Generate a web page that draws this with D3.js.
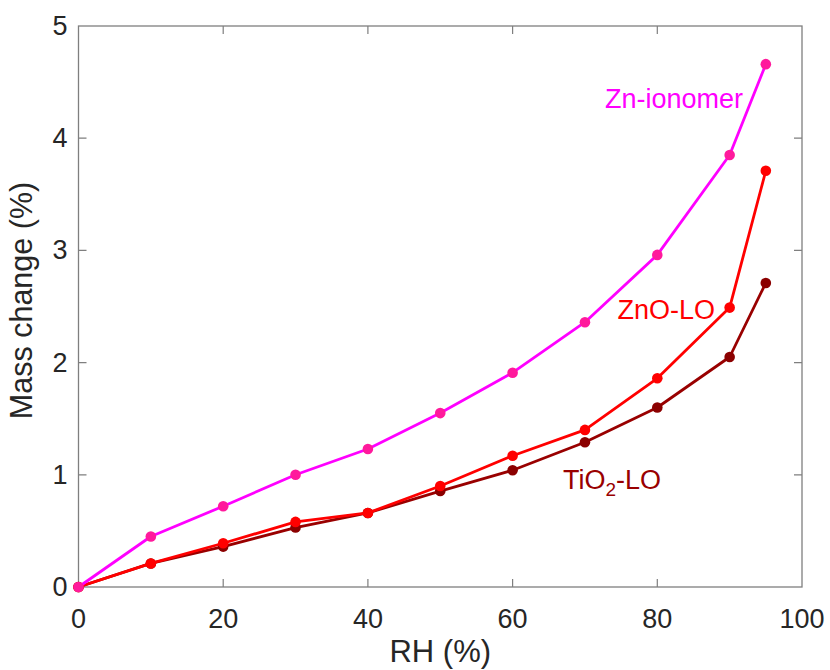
<!DOCTYPE html>
<html>
<head>
<meta charset="utf-8">
<script src="https://cdn.jsdelivr.net/npm/d3@7"></script>
<style>
  body { margin: 0; background: #fff; }
  svg text { font-family: "Liberation Sans", Arial, Helvetica, sans-serif; }
</style>
</head>
<body>
<div id="chart"></div>
<script>
// relative humidity steps (%)
const rh = [0, 10, 20, 30, 40, 50, 60, 70, 80, 90, 95];

// mass change (%) per sample
const znIonomer = [0, 0.45, 0.72, 1.00, 1.23, 1.55, 1.91, 2.36, 2.96, 3.85, 4.66];
const znoLO     = [0, 0.21, 0.39, 0.58, 0.66, 0.90, 1.17, 1.40, 1.86, 2.49, 3.71];
const tio2LO    = [0, 0.21, 0.36, 0.53, 0.66, 0.855, 1.04, 1.29, 1.60, 2.05, 2.71];

const xTicks = [0, 20, 40, 60, 80, 100];
const yTicks = [0, 1, 2, 3, 4, 5];

const series = [
  {name: 'TiO2-LO', values: tio2LO, line: '#990000', dot: '#8b0000'},
  {name: 'ZnO-LO', values: znoLO, line: '#ff0000', dot: '#ff0000'},
  {name: 'Zn-ionomer', values: znIonomer, line: '#ff00ff', dot: '#ff1a9c'},
];

const width = 830, height = 670;
const margin = {top: 26, right: 28, bottom: 83, left: 78.5};
const w = width - margin.left - margin.right;
const h = height - margin.top - margin.bottom;

const svg = d3.select('#chart').append('svg')
  .attr('width', width)
  .attr('height', height);

const g = svg.append('g')
  .attr('transform', `translate(${margin.left},${margin.top})`);

const x = d3.scaleLinear().domain([0, 100]).range([0, w]);
const y = d3.scaleLinear().domain([0, 5]).range([h, 0]);

const axisCol = '#7f7f7f';
const tickLen = 8;

// frame
g.append('rect')
  .attr('width', w).attr('height', h)
  .attr('fill', 'none')
  .attr('stroke', axisCol)
  .attr('stroke-width', 1.3);

// inward ticks on all four sides
g.selectAll('.xt').data(xTicks.slice(1, -1)).enter().append('path')
  .attr('d', d => `M${x(d)},${h}v${-tickLen}M${x(d)},0v${tickLen}`)
  .attr('stroke', axisCol).attr('stroke-width', 1.2);
g.selectAll('.yt').data(yTicks.slice(1, -1)).enter().append('path')
  .attr('d', d => `M0,${y(d)}h${tickLen}M${w},${y(d)}h${-tickLen}`)
  .attr('stroke', axisCol).attr('stroke-width', 1.2);

// tick labels
g.selectAll('.xl').data(xTicks).enter().append('text')
  .attr('x', d => x(d)).attr('y', h + 41)
  .attr('text-anchor', 'middle')
  .attr('font-size', 27).attr('fill', '#262626')
  .text(d => d);
g.selectAll('.yl').data(yTicks).enter().append('text')
  .attr('x', -11).attr('y', d => y(d) + 9)
  .attr('text-anchor', 'end')
  .attr('font-size', 27).attr('fill', '#262626')
  .text(d => d);

// axis titles
g.append('text')
  .attr('x', w / 2).attr('y', h + 75)
  .attr('text-anchor', 'middle')
  .attr('font-size', 31).attr('fill', '#262626')
  .text('RH (%)');
g.append('text')
  .attr('transform', `translate(-47,${h / 2 - 6}) rotate(-90)`)
  .attr('text-anchor', 'middle')
  .attr('font-size', 30.5).attr('fill', '#262626')
  .text('Mass change (%)');

const line = d3.line()
  .x((d, i) => x(rh[i]))
  .y(d => y(d));

series.forEach(s => {
  g.append('path')
    .datum(s.values)
    .attr('d', line)
    .attr('fill', 'none')
    .attr('stroke', s.line)
    .attr('stroke-width', 2.8)
    .attr('stroke-linejoin', 'round');
  g.selectAll(null).data(s.values).enter().append('circle')
    .attr('cx', (d, i) => x(rh[i]))
    .attr('cy', d => y(d))
    .attr('r', 5.3)
    .attr('fill', s.dot);
});

// series labels
g.append('text')
  .attr('x', 743 - margin.left).attr('y', 108 - margin.top)
  .attr('text-anchor', 'end')
  .attr('font-size', 27).attr('fill', '#ff00ff')
  .text('Zn-ionomer');
g.append('text')
  .attr('x', 715 - margin.left).attr('y', 319 - margin.top)
  .attr('text-anchor', 'end')
  .attr('font-size', 27).attr('fill', '#ff0000')
  .text('ZnO-LO');
const tl = g.append('text')
  .attr('x', 563 - margin.left).attr('y', 489 - margin.top)
  .attr('font-size', 27).attr('fill', '#990000');
tl.append('tspan').text('TiO');
tl.append('tspan').attr('font-size', 19).attr('dy', 7).text('2');
tl.append('tspan').attr('dy', -7).text('-LO');
</script>
</body>
</html>
